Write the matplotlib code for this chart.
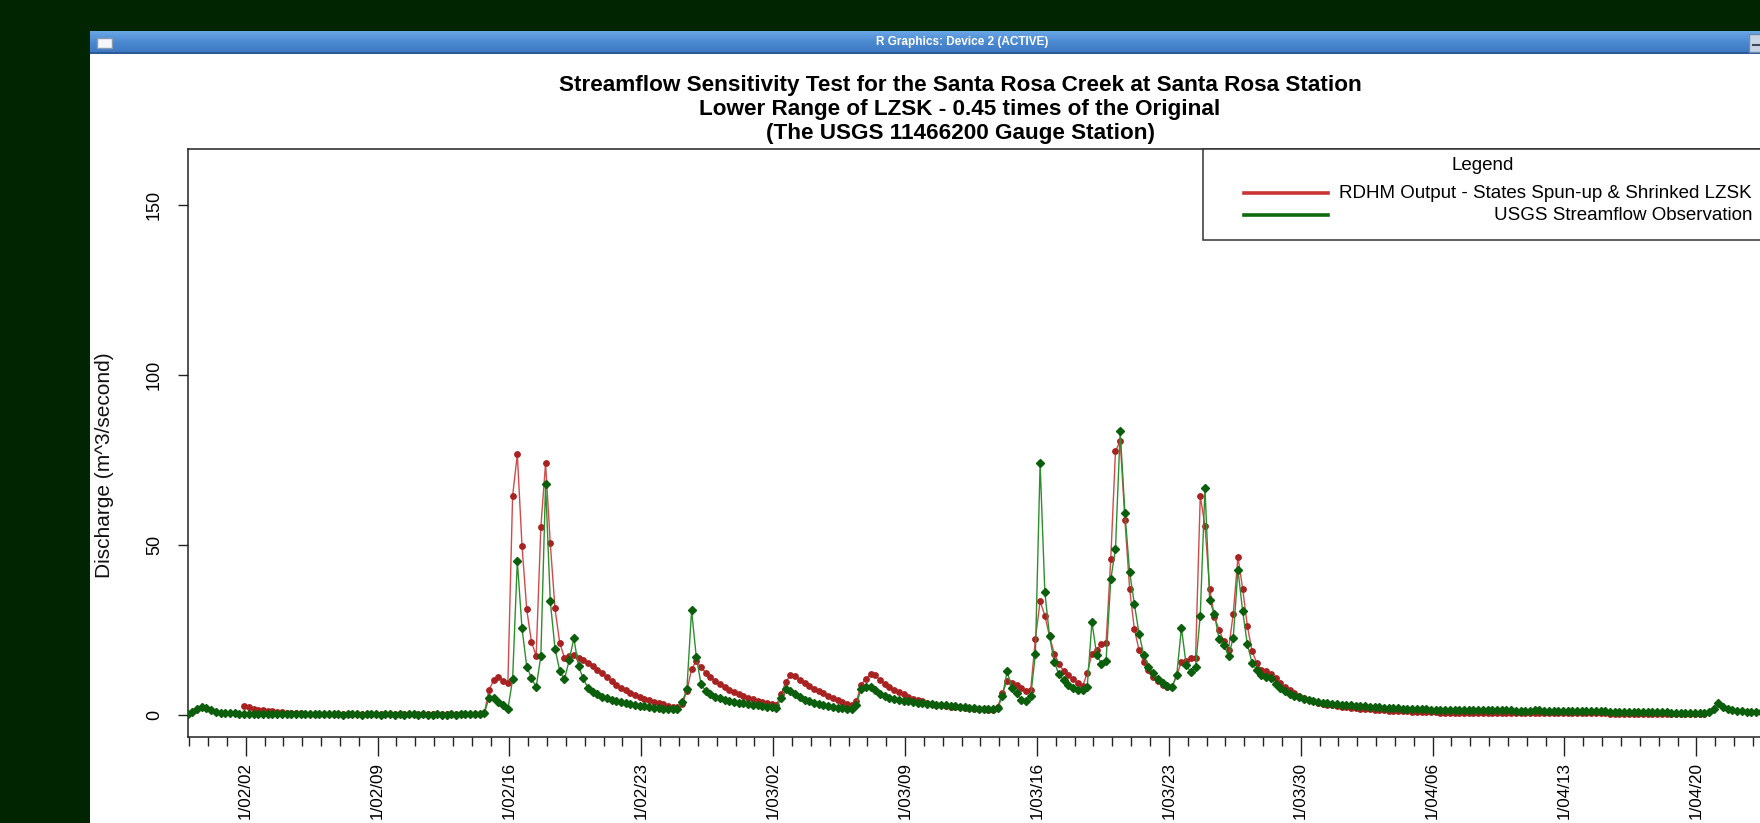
import numpy as np
import matplotlib
matplotlib.use("Agg")
import matplotlib.pyplot as plt
import matplotlib.dates as mdates
from matplotlib import font_manager
from matplotlib.patches import Rectangle
from matplotlib.lines import Line2D
from matplotlib.colors import LinearSegmentedColormap

# ---------------- data (6-hourly discharge, m^3/s) ----------------
GREEN_START = np.datetime64('2001-01-29T22:00')
RED_START = np.datetime64('2001-02-01T22:00')
STEP_HOURS = 6

USGS_OBS = [
    0.4, 0.9, 1.7, 2.4, 2.0, 1.4, 1.0, 0.8, 0.7, 0.6,
    0.6, 0.5, 0.5, 0.5, 0.5, 0.4, 0.4, 0.4, 0.4, 0.4,
    0.4, 0.4, 0.3, 0.4, 0.3, 0.3, 0.3, 0.3, 0.3, 0.3,
    0.3, 0.3, 0.3, 0.2, 0.3, 0.3, 0.3, 0.2, 0.3, 0.3,
    0.3, 0.2, 0.3, 0.3, 0.2, 0.3, 0.2, 0.3, 0.3, 0.2,
    0.3, 0.2, 0.2, 0.3, 0.2, 0.2, 0.3, 0.2, 0.3, 0.3,
    0.3, 0.3, 0.4, 0.6,
    5.1, 5.1, 3.9, 2.9, 1.8, 10.5, 45.3, 25.5, 14.3, 11.0,
    8.2, 17.4, 68.0, 33.5, 19.6, 13.1, 10.5, 16.1, 22.6, 14.4,
    10.8, 8.0, 6.9, 6.1, 5.5, 5.0, 4.6, 4.2, 3.9, 3.6,
    3.3, 3.0, 2.8, 2.6, 2.4, 2.2, 2.0, 1.9, 1.9, 1.8,
    1.8, 3.9, 7.6, 30.8, 17.1, 9.2,
    7.1, 6.1, 5.5, 5.0, 4.6, 4.3, 4.0, 3.7, 3.5, 3.3,
    3.1, 2.9, 2.7, 2.5, 2.3, 2.2, 5.1, 7.6, 7.1, 6.1,
    5.3, 4.6, 4.1, 3.6, 3.3, 3.0, 2.7, 2.4, 2.2, 2.0,
    1.9, 1.8, 3.1, 7.8, 8.2, 8.2, 7.3, 6.1, 5.6, 5.1,
    4.8, 4.5, 4.3, 4.1, 3.9, 3.7, 3.5, 3.4, 3.3, 3.1,
    3.0, 2.9, 2.7, 2.6, 2.4, 2.3, 2.2, 2.0, 1.9, 1.8,
    1.7, 1.7,
    2.2, 5.6, 12.9, 8.0, 6.4, 4.6, 4.3, 5.6, 18.1, 74.0,
    36.2, 23.2, 15.6, 12.0, 10.3, 9.0, 8.0, 7.5, 7.4, 8.3,
    27.4, 17.8, 15.2, 16.0, 39.9, 48.9, 83.5, 59.5, 42.1, 32.8,
    24.0, 17.8, 14.2, 12.3, 10.5, 9.5, 8.5, 8.3, 11.7, 25.7,
    14.9, 12.6, 14.2, 29.3, 66.9, 33.8, 29.6, 22.5,
    20.6, 17.4, 22.7, 42.8, 30.6, 20.8, 15.4, 13.2, 11.8, 11.2,
    10.8, 9.2, 8.0, 7.1, 6.3, 5.7, 5.3, 4.9, 4.6, 4.3,
    4.0, 3.7, 3.5, 3.3, 3.2, 3.1, 3.0, 2.9, 2.8, 2.7,
    2.6, 2.5, 2.4, 2.3, 2.2, 2.1, 2.0, 2.0, 1.9, 1.8,
    1.8, 1.7,
    1.7, 1.7, 1.6, 1.6, 1.6, 1.5, 1.5, 1.5, 1.5, 1.4,
    1.4, 1.5, 1.5, 1.6, 1.6, 1.5, 1.5, 1.4, 1.4, 1.4,
    1.3, 1.3, 1.3, 1.3, 1.4, 1.4, 1.3, 1.3, 1.2, 1.2,
    1.2, 1.2, 1.2, 1.2, 1.2, 1.1, 1.1, 1.1, 1.1, 1.1,
    1.0, 1.0, 1.0, 1.0, 1.0, 1.0, 1.0, 0.9, 0.9, 0.9,
    0.9, 0.9, 0.9, 0.8, 0.8, 0.8, 0.8, 0.8, 0.8, 0.8,
    0.8, 0.9, 1.8, 3.6, 2.4, 1.8, 1.4, 1.2, 1.1, 1.0,
    1.0, 0.9, 0.9, 0.9, 0.9,
]

RDHM_SIM = [
    2.6, 2.3, 1.9, 1.6, 1.4, 1.2, 1.1, 1.0, 0.9, 0.8,
    0.7, 0.6, 0.6, 0.5, 0.5, 0.4, 0.4, 0.4, 0.4, 0.3,
    0.3, 0.3, 0.3, 0.3, 0.3, 0.3, 0.3, 0.3, 0.3, 0.3,
    0.3, 0.3, 0.3, 0.3, 0.3, 0.3, 0.3, 0.3, 0.3, 0.3,
    0.3, 0.3, 0.3, 0.3, 0.3, 0.3, 0.3, 0.3, 0.3, 0.3,
    0.4, 0.6,
    7.5, 10.3, 11.2, 10.2, 9.6, 64.4, 76.7, 49.7, 31.1, 21.6,
    17.4, 55.4, 74.0, 50.5, 31.4, 21.3, 16.9, 17.4, 17.8, 16.9,
    16.3, 15.4, 14.4, 13.3, 12.3, 11.2, 10.1, 9.0, 8.0, 7.3,
    6.5, 5.9, 5.4, 4.9, 4.5, 4.0, 3.6, 3.2, 2.8, 2.5,
    2.3, 3.2, 7.1, 13.6, 15.9, 14.1,
    12.5, 11.2, 10.1, 9.1, 8.2, 7.4, 6.7, 6.1, 5.6, 5.1,
    4.7, 4.3, 3.9, 3.6, 3.3, 3.0, 6.1, 9.8, 11.7, 11.4,
    10.4, 9.5, 8.6, 7.8, 7.0, 6.4, 5.7, 5.0, 4.4, 3.8,
    3.3, 3.0, 4.1, 9.0, 10.7, 12.0, 11.7, 10.4, 9.3, 8.3,
    7.5, 6.8, 6.1, 5.5, 4.9, 4.5, 4.1, 3.7, 3.4, 3.1,
    2.9, 2.7, 2.5, 2.4, 2.3, 2.2, 2.0, 1.9, 1.8, 1.7,
    1.6, 1.6,
    2.5, 6.5, 10.0, 9.6, 8.8, 7.9, 7.2, 7.5, 22.5, 33.5,
    29.3, 23.2, 18.1, 15.2, 12.9, 11.7, 10.5, 9.5, 8.5, 12.3,
    18.1, 19.3, 20.8, 21.1, 46.0, 77.6, 80.6, 57.4, 37.2, 25.4,
    19.1, 15.6, 13.2, 11.3, 10.0, 9.0, 8.3, 8.3, 11.8, 15.6,
    15.9, 16.7, 16.7, 64.4, 55.6, 37.2, 29.0, 25.0,
    21.8, 19.3, 29.8, 46.5, 37.2, 26.2, 18.8, 15.4, 13.4, 12.9,
    12.2, 10.8, 9.4, 8.2, 7.3, 6.4, 5.7, 5.1, 4.6, 4.1,
    3.7, 3.4, 3.1, 2.9, 2.7, 2.5, 2.3, 2.2, 2.0, 1.9,
    1.8, 1.7, 1.6, 1.5, 1.4, 1.3, 1.3, 1.2, 1.1, 1.1,
    1.0, 1.0,
    0.9, 0.9, 0.9, 0.9, 0.8, 0.8, 0.8, 0.8, 0.8, 0.8,
    0.8, 0.8, 0.8, 0.7, 0.7, 0.7, 0.7, 0.7, 0.7, 0.7,
    0.7, 0.7, 0.7, 0.7, 0.6, 0.6, 0.6, 0.6, 0.6, 0.6,
    0.6, 0.6, 0.6, 0.6, 0.6, 0.6, 0.6, 0.6, 0.6, 0.6,
    0.5, 0.5, 0.5, 0.5, 0.5, 0.5, 0.5, 0.5, 0.5, 0.5,
    0.5, 0.5, 0.5, 0.5, 0.5, 0.5, 0.5, 0.5, 0.5, 0.5,
    0.5,
]

TICK_DATES = ['2001-02-02', '2001-02-09', '2001-02-16', '2001-02-23',
              '2001-03-02', '2001-03-09', '2001-03-16', '2001-03-23',
              '2001-03-30', '2001-04-06', '2001-04-13', '2001-04-20']
TICK_LABELS = ['1/02/02', '1/02/09', '1/02/16', '1/02/23',
               '1/03/02', '1/03/09', '1/03/16', '1/03/23',
               '1/03/30', '1/04/06', '1/04/13', '1/04/20']
Y_TICKS = [0, 50, 100, 150]

TITLE_LINES = ["Streamflow Sensitivity Test for the Santa Rosa Creek at Santa Rosa Station",
               "Lower Range of LZSK - 0.45 times of the Original",
               "(The USGS 11466200 Gauge Station)"]
LEGEND_TITLE = "Legend"
LEGEND_LABELS = ["RDHM Output - States Spun-up & Shrinked LZSK",
                 "USGS Streamflow Observation"]
WINDOW_TITLE = "R Graphics: Device 2 (ACTIVE)"

# ---------------- layout helpers ----------------
W, H = 1760, 823
def fx(x):
    return x / W
def fy(y):
    return 1 - y / H

FONT = 'Liberation Sans'
_names = {f.name for f in font_manager.fontManager.ttflist}
if 'Liberation Sans Narrow' in _names:
    BAR_FONT, BAR_SIZE = 'Liberation Sans Narrow', 10.3
else:
    BAR_FONT, BAR_SIZE = 'Liberation Sans', 8.5
BG = '#012401'

fig = plt.figure(figsize=(W / 100, H / 100), dpi=100, facecolor=BG)

# window body
fig.patches.append(Rectangle((fx(90), 0), 1 - fx(90), fy(54), transform=fig.transFigure,
                             facecolor='white', edgecolor='none', zorder=-5))

# title bar gradient
tb = fig.add_axes([fx(90), fy(54), 1 - fx(90), (54 - 31) / H], zorder=1)
cmap = LinearSegmentedColormap.from_list('tb', ['#6aa6e6', '#4a88d0', '#3b77c0'])
tb.imshow(np.linspace(0, 1, 60)[:, None], aspect='auto', cmap=cmap,
          extent=(0, 1, 0, 1), origin='upper')
tb.axhline(0.03, color='#2a5a98', lw=1.5)
tb.set_axis_off()
# small icon at left of title bar
fig.patches.append(Rectangle((fx(97), fy(48)), (112 - 97) / W, (48 - 38) / H,
                             transform=fig.transFigure, facecolor='#f4f6fa',
                             edgecolor='#8a9ab0', lw=1, zorder=4))
# partially visible button at right
fig.patches.append(Rectangle((fx(1749), fy(52)), (1770 - 1749) / W, (52 - 34) / H,
                             transform=fig.transFigure, facecolor='#c8d4e4',
                             edgecolor='#6d8bb0', lw=1, zorder=4))
fig.lines.append(Line2D([fx(1753), fx(1760)], [fy(45), fy(45)], transform=fig.transFigure,
                        color='#404850', lw=1.5, zorder=5))
fig.text(fx(962), fy(42.5), WINDOW_TITLE, color='white', fontsize=BAR_SIZE, fontweight='bold',
         family=BAR_FONT, ha='center', va='center', zorder=6)

# ---------------- main axes ----------------
ax_left, ax_right, ax_top, ax_bottom = 188, 1790, 149, 737
ax = fig.add_axes([fx(ax_left), fy(ax_bottom), (ax_right - ax_left) / W,
                   (ax_bottom - ax_top) / H], zorder=2)
ax.set_facecolor('white')

t_green = GREEN_START + np.arange(len(USGS_OBS)) * np.timedelta64(STEP_HOURS, 'h')
t_red = RED_START + np.arange(len(RDHM_SIM)) * np.timedelta64(STEP_HOURS, 'h')

ax.plot(t_red, RDHM_SIM, color='#d24a4a', lw=1.0, marker='o', markersize=3.9,
        markerfacecolor='#a82222', markeredgecolor='#a82222', zorder=3)
ax.plot(t_green, USGS_OBS, color='#2e8e2e', lw=1.0, marker='D', markersize=3.7,
        markerfacecolor='#0b5e0b', markeredgecolor='#0b5e0b', zorder=4)

x0 = mdates.date2num(np.datetime64('2001-02-02'))
px_per_day = 18.84
ax.set_xlim(x0 - (245.7 - ax_left) / px_per_day, x0 + (ax_right - 245.7) / px_per_day)
ax.set_ylim(-6.4, 166.4)

for s in ax.spines.values():
    s.set_color('#222222')
    s.set_linewidth(1.1)

major = [mdates.date2num(np.datetime64(d)) for d in TICK_DATES]
ax.set_xticks(major)
ax.set_xticklabels(TICK_LABELS, rotation=90, fontsize=12.3, family=FONT, va='top', ha='center')
ax.xaxis.set_minor_locator(mdates.DayLocator())
ax.tick_params(axis='x', which='major', length=14, width=1.0, color='#222222', pad=4)
ax.tick_params(axis='x', which='minor', length=6.5, width=1.0, color='#222222')

ax.set_yticks(Y_TICKS)
ax.set_yticklabels([str(v) for v in Y_TICKS], rotation=90, va='center', fontsize=13,
                   family=FONT)
ax.tick_params(axis='y', length=7, width=1.0, color='#222222', pad=11)

fig.text(fx(105), fy(465), 'Discharge (m^3/second)', rotation=90, fontsize=15,
         family=FONT, ha='center', va='center', color='#111111')

# ---------------- titles ----------------
for txt, yy in zip(TITLE_LINES, [85.5, 109, 133]):
    fig.text(fx(960), fy(yy), txt, fontsize=16.2, fontweight='bold', family=FONT,
             ha='center', va='center', color='black')

# ---------------- legend (drawn like R legend box) ----------------
fig.patches.append(Rectangle((fx(1203), fy(240)), fx(1800) - fx(1203), (240 - 149) / H,
                             transform=fig.transFigure, facecolor='white',
                             edgecolor='#333333', lw=1.1, zorder=7))
fig.text(fx(1483), fy(165), LEGEND_TITLE, fontsize=13.5, family=FONT, ha='center',
         va='center', zorder=8)
for lab, yy, col in zip(LEGEND_LABELS, [193, 215], ['#c83434', '#0e6a0e']):
    fig.lines.append(Line2D([fx(1244), fx(1328)], [fy(yy), fy(yy)], transform=fig.transFigure,
                            color=col, lw=2.6, zorder=8))
    fig.text(fx(1752), fy(yy), lab, fontsize=13.5, family=FONT, ha='right', va='center',
             zorder=8)

fig.savefig('out.png', dpi=100, facecolor=BG)
